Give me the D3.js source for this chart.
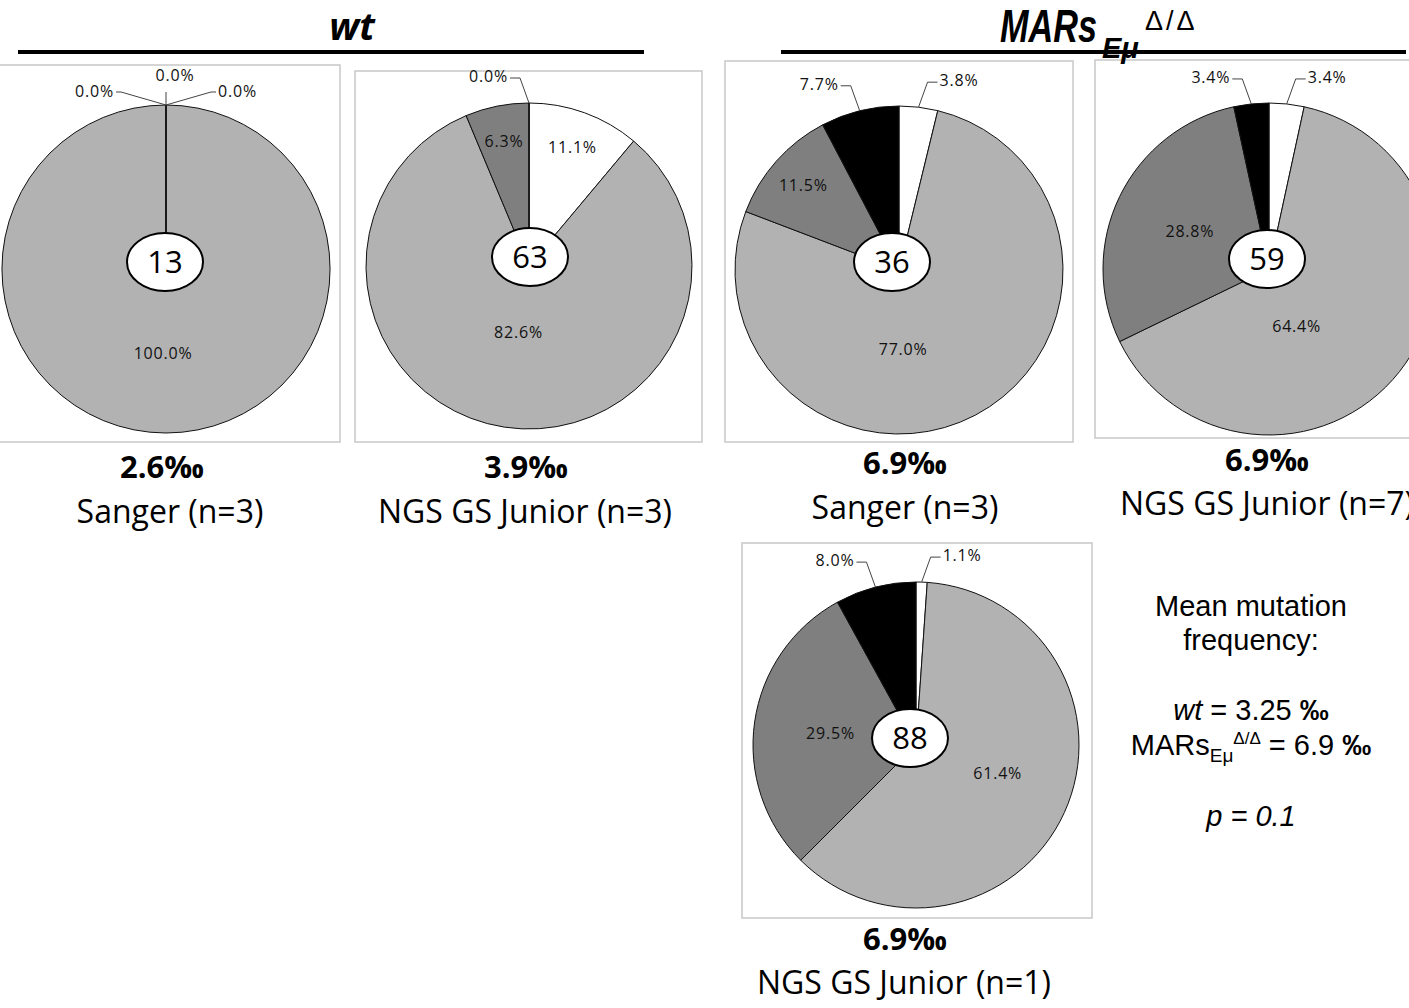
<!DOCTYPE html>
<html>
<head>
<script src="https://d3js.org/d3.v7.min.js"></script>
<style>
  body { margin: 0; background: #fff; }
</style>
</head>
<body>
<div id="chart"></div>
<script>
const W = 1409, H = 1008;

// slice categories, clockwise from 12 o'clock
const sliceColors = ["#ffffff", "#b2b2b2", "#7f7f7f", "#000000"];

// percentages per chart
const wtSanger   = [0.0, 100.0, 0.0, 0.0];
const wtNgs      = [11.1, 82.6, 6.3, 0.0];
const marsSanger = [3.8, 77.0, 11.5, 7.7];
const marsNgs7   = [3.4, 64.4, 28.8, 3.4];
const marsNgs1   = [1.1, 61.4, 29.5, 8.0];

const mutationCounts = [13, 63, 36, 59, 88];
const frequencies = ["2.6", "3.9", "6.9", "6.9", "6.9"];
const methods = ["Sanger (n=3)", "NGS GS Junior (n=3)", "Sanger (n=3)",
                 "NGS GS Junior (n=7)", "NGS GS Junior (n=1)"];

const meanWt = "3.25", meanMars = "6.9", pValue = "0.1";

// layout of the five panels (big = label angle/radius for the largest slice, Excel "best fit")
const panels = [
  {vals: wtSanger,   cx: 166, cy: 269, r: 164, box: [-5, 65, 345, 377],  ex: 165, ey: 262, fx: 162, fy: 478, mx: 170, my: 523, big: [182, 0.51]},
  {vals: wtNgs,      cx: 529, cy: 266, r: 163, box: [355, 71, 347, 371], ex: 530, ey: 257, fx: 526, fy: 478, mx: 525, my: 523, big: [189, 0.41]},
  {vals: marsSanger, cx: 899, cy: 270, r: 164, box: [725, 61, 348, 381], ex: 892, ey: 262, fx: 905, fy: 474, mx: 905, my: 519, big: [177, 0.48]},
  {vals: marsNgs7,   cx: 1269, cy: 269, r: 166, box: [1095, 60, 330, 378], ex: 1267, ey: 259, fx: 1267, fy: 471, mx: 1267, my: 515, big: [154, 0.38]},
  {vals: marsNgs1,   cx: 916, cy: 745, r: 163, box: [742, 543, 350, 375], ex: 910, ey: 738, fx: 905, fy: 950, mx: 904, my: 994, big: [109, 0.53]}
];

const svg = d3.select("#chart").append("svg")
  .attr("width", W).attr("height", H)
  .style("background", "#fff");

const labelFont = "'Open Sans', sans-serif";
const pie = d3.pie().sort(null).value(d => d);
const fmt = d3.format(".1f");

function pctLabel(sel) {
  return sel.attr("dominant-baseline", "central")
    .attr("font-family", labelFont)
    .attr("font-size", 16)
    .attr("letter-spacing", 0.8)
    .attr("fill", "#111");
}

panels.forEach((p, pi) => {
  // frame
  svg.append("rect")
    .attr("x", p.box[0]).attr("y", p.box[1])
    .attr("width", p.box[2]).attr("height", p.box[3])
    .attr("fill", "none").attr("stroke", "#c8c8c8").attr("stroke-width", 1.5);

  const g = svg.append("g").attr("transform", `translate(${p.cx},${p.cy})`);
  const arc = d3.arc().innerRadius(0).outerRadius(p.r);
  const arcs = pie(p.vals);

  g.selectAll("path.slice")
    .data(arcs)
    .join("path")
    .attr("class", "slice")
    .attr("d", arc)
    .attr("fill", (d, i) => sliceColors[i])
    .attr("stroke", "#111")
    .attr("stroke-width", 1);

  // inside labels
  const maxVal = d3.max(p.vals);
  const inside = arcs.filter(d => !(d.value < 5 || d.index === 3));
  inside.forEach(d => {
    let a = (d.startAngle + d.endAngle) / 2;
    let f = d.value < 15 ? 0.78 : 0.53;
    if (d.value === maxVal) { a = p.big[0] * Math.PI / 180; f = p.big[1]; }
    const rr = p.r * f;
    pctLabel(g.append("text"))
      .attr("x", Math.sin(a) * rr)
      .attr("y", -Math.cos(a) * rr)
      .attr("text-anchor", "middle")
      .text(fmt(d.value) + "%");
  });

  // outside labels with leader lines
  const outside = arcs.filter(d => d.value < 5 || d.index === 3);
  const placed = [];
  outside.forEach(d => {
    const a = (d.startAngle + d.endAngle) / 2;
    let side = a < Math.PI ? 1 : -1;
    if (placed.some(o => o.side === side && Math.abs(o.a - a) < 0.05)) side = 0;
    placed.push({d, a, side});
  });
  const hasCenter = placed.some(o => o.side === 0);

  placed.forEach(o => {
    const ex = Math.sin(o.a) * p.r, ey = -Math.cos(o.a) * p.r;
    let pts, tx, ty, anchor;
    if (o.side === 0) {
      pts = [[ex, ey], [ex, ey - 13]];
      tx = ex + 9; ty = ey - 30; anchor = "middle";
    } else if (hasCenter) {
      const el = [ex + o.side * 45, ey - 13];
      const en = [el[0] + o.side * 5, el[1]];
      pts = [[ex, ey], el, en];
      tx = en[0] + o.side * 2; ty = el[1] - 1;
      anchor = o.side > 0 ? "start" : "end";
    } else {
      const el = [ex + o.side * 9, ey - 25];
      const en = [el[0] + o.side * 10, el[1]];
      pts = [[ex, ey], el, en];
      tx = en[0] + o.side * 2; ty = el[1] - 2;
      anchor = o.side > 0 ? "start" : "end";
    }
    g.append("path")
      .attr("d", d3.line()(pts))
      .attr("fill", "none")
      .attr("stroke", "#444")
      .attr("stroke-width", 1);
    pctLabel(g.append("text"))
      .attr("x", tx).attr("y", ty)
      .attr("text-anchor", anchor)
      .text(fmt(o.d.value) + "%");
  });

  // count bubble
  svg.append("ellipse")
    .attr("cx", p.ex).attr("cy", p.ey)
    .attr("rx", 38).attr("ry", 29)
    .attr("fill", "#fff").attr("stroke", "#000").attr("stroke-width", 2);
  svg.append("text")
    .attr("x", p.ex).attr("y", p.ey + 11)
    .attr("text-anchor", "middle")
    .attr("font-family", labelFont)
    .attr("font-size", 31)
    .text(mutationCounts[pi]);

  // frequency + method
  svg.append("text")
    .attr("x", p.fx).attr("y", p.fy)
    .attr("text-anchor", "middle")
    .attr("font-family", labelFont)
    .attr("font-weight", "bold")
    .attr("font-size", 31)
    .text(frequencies[pi] + "‰");
  svg.append("text")
    .attr("x", p.mx).attr("y", p.my)
    .attr("text-anchor", "middle")
    .attr("font-family", labelFont)
    .attr("font-size", 32)
    .text(methods[pi]);
});

// group headers
svg.append("line").attr("x1", 18).attr("x2", 644).attr("y1", 52).attr("y2", 52)
  .attr("stroke", "#000").attr("stroke-width", 4);
svg.append("text")
  .attr("x", 352).attr("y", 40)
  .attr("text-anchor", "middle")
  .attr("font-family", labelFont)
  .attr("font-weight", "bold").attr("font-style", "italic")
  .attr("font-size", 38)
  .text("wt");

svg.append("line").attr("x1", 781).attr("x2", 1406).attr("y1", 52).attr("y2", 52)
  .attr("stroke", "#000").attr("stroke-width", 4);
const headFont = "'Liberation Sans', Arial, sans-serif";
svg.append("text")
  .attr("x", 1000).attr("y", 42)
  .attr("font-family", headFont)
  .attr("font-weight", "bold").attr("font-style", "italic")
  .attr("font-size", 46)
  .attr("textLength", 97).attr("lengthAdjust", "spacingAndGlyphs")
  .text("MARs");
svg.append("text")
  .attr("x", 1102).attr("y", 58)
  .attr("font-family", headFont)
  .attr("font-weight", "bold").attr("font-style", "italic")
  .attr("font-size", 29)
  .text("Eμ");
svg.append("text")
  .attr("x", 1145).attr("y", 30)
  .attr("font-family", headFont)
  .attr("font-size", 27)
  .attr("letter-spacing", 3)
  .text("Δ/Δ");

// summary text
const sumFont = "'Liberation Sans', Arial, sans-serif";
const sx = 1251;
function sumLine(y) {
  return svg.append("text").attr("x", sx).attr("y", y)
    .attr("text-anchor", "middle")
    .attr("font-family", sumFont).attr("font-size", 29).attr("fill", "#000");
}
sumLine(616).text("Mean mutation");
sumLine(650).text("frequency:");
const l3 = sumLine(720);
l3.append("tspan").attr("font-style", "italic").text("wt");
l3.append("tspan").text(" = " + meanWt + " ");
l3.append("tspan").attr("font-weight", "bold").text("‰");
const l4 = sumLine(755);
l4.append("tspan").text("MARs");
l4.append("tspan").attr("font-size", 19).attr("dy", 7).text("Eμ");
l4.append("tspan").attr("font-size", 17).attr("dy", -18).text("Δ/Δ");
l4.append("tspan").attr("dy", 11).text(" = " + meanMars + " ");
l4.append("tspan").attr("font-weight", "bold").text("‰");
sumLine(826).attr("font-style", "italic").text("p = " + pValue);
</script>
</body>
</html>
